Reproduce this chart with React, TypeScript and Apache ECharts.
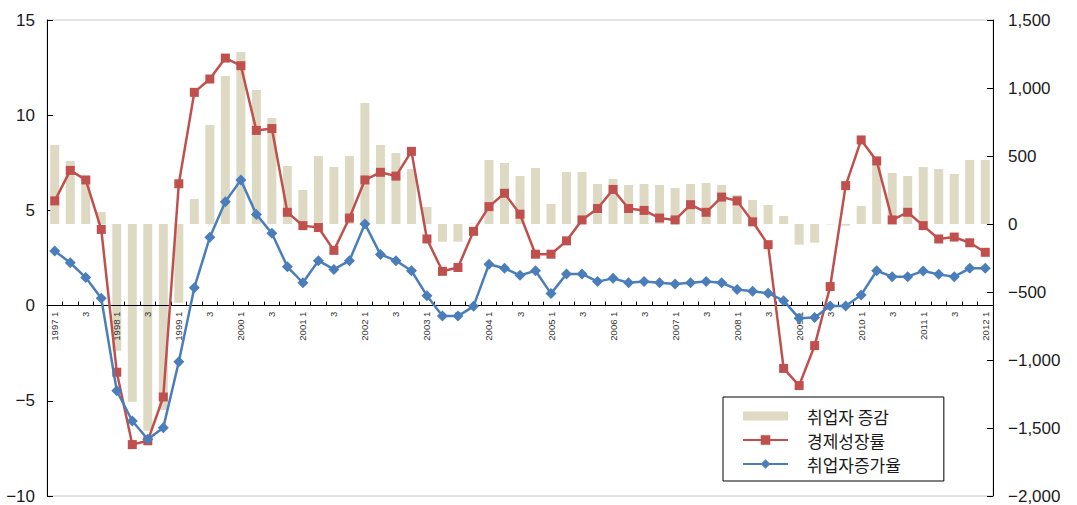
import React, { useEffect, useRef } from "react";
import * as echarts from "echarts";

// Quarter labels, 1997 Q1 – 2012 Q1
const categories: string[] = [
  "1997 1", "1997 2", "1997 3", "1997 4",
  "1998 1", "1998 2", "1998 3", "1998 4",
  "1999 1", "1999 2", "1999 3", "1999 4",
  "2000 1", "2000 2", "2000 3", "2000 4",
  "2001 1", "2001 2", "2001 3", "2001 4",
  "2002 1", "2002 2", "2002 3", "2002 4",
  "2003 1", "2003 2", "2003 3", "2003 4",
  "2004 1", "2004 2", "2004 3", "2004 4",
  "2005 1", "2005 2", "2005 3", "2005 4",
  "2006 1", "2006 2", "2006 3", "2006 4",
  "2007 1", "2007 2", "2007 3", "2007 4",
  "2008 1", "2008 2", "2008 3", "2008 4",
  "2009 1", "2009 2", "2009 3", "2009 4",
  "2010 1", "2010 2", "2010 3", "2010 4",
  "2011 1", "2011 2", "2011 3", "2011 4",
  "2012 1",
];

// 취업자 증감 (천 명, 오른쪽 축)
const employmentChange: number[] = [
  581, 463, 350, 88,
  -932, -1307, -1520, -1368,
  -579, 184, 728, 1088,
  1265, 985, 779, 426,
  250, 500, 419, 500,
  890, 581, 522, 404,
  125, -130, -130, 3,
  471, 449, 353, 412,
  147, 382, 382, 294,
  331, 287, 294, 287,
  265, 294, 301, 287,
  213, 176, 140, 59,
  -152, -137, -3, -12,
  132, 434, 375, 353,
  419, 404, 368, 471,
  471,
];

// 경제성장률 (%, 왼쪽 축)
const gdpGrowth: number[] = [
  5.5, 7.1, 6.6, 4.0,
  -3.5, -7.3, -7.1, -4.8,
  6.4, 11.2, 11.9, 13.0,
  12.6, 9.2, 9.3, 4.9,
  4.2, 4.1, 2.9, 4.6,
  6.6, 7.0, 6.8, 8.1,
  3.5, 1.8, 2.0, 3.9,
  5.2, 5.9, 4.8, 2.7,
  2.7, 3.4, 4.5, 5.1,
  6.1, 5.1, 5.0, 4.6,
  4.5, 5.3, 4.9, 5.7,
  5.5, 4.4, 3.2, -3.3,
  -4.2, -2.1, 1.0, 6.3,
  8.7, 7.6, 4.5, 4.9,
  4.2, 3.5, 3.6, 3.3,
  2.8,
];

// 취업자증가율 (%, 왼쪽 축)
const employmentGrowth: number[] = [
  2.87, 2.25, 1.47, 0.38,
  -4.47, -6.06, -7.02, -6.41,
  -2.95, 0.94, 3.59, 5.46,
  6.6, 4.79, 3.8, 2.04,
  1.2, 2.36, 1.9, 2.36,
  4.29, 2.69, 2.36, 1.83,
  0.52, -0.55, -0.55, -0.04,
  2.17, 1.96, 1.59, 1.83,
  0.63, 1.66, 1.66, 1.26,
  1.43, 1.2, 1.27, 1.2,
  1.13, 1.2, 1.26, 1.2,
  0.85, 0.75, 0.65, 0.26,
  -0.67, -0.62, -0.02, -0.02,
  0.56, 1.83, 1.52, 1.52,
  1.82, 1.64, 1.52, 1.96,
  1.96,
];

const seriesNames = ["취업자 증감", "경제성장률", "취업자증가율"];

const leftTicks = { min: -10, max: 15, interval: 5 };
const rightTicks = { min: -2000, max: 1500, interval: 500 };

const NUM_FONT = "'Liberation Sans', Arial, sans-serif";
const KR_FONT = "'Noto Sans CJK KR', sans-serif";

const WIDTH = 1077;
const HEIGHT = 505;
const GRID = { left: 47, right: 84, top: 20, bottom: 9 };

// The category axis sits on the left axis' zero line, with its labels
const plotHeight = HEIGHT - GRID.top - GRID.bottom;
const zeroOffset =
  -plotHeight * (0 - leftTicks.min) / (leftTicks.max - leftTicks.min);

const minus = (s: string) => s.replace("-", "\u2212");

// Q1 shows "year 1", Q3 shows "3"; others are skipped by the axis interval
const quarterLabel = (value: string) => {
  const [year, q] = value.split(" ");
  return q === "1" ? `${year} 1` : q;
};

export default function App() {
  const ref = useRef<HTMLDivElement>(null);

  useEffect(() => {
    if (!ref.current) return;
    const chart = echarts.init(ref.current, undefined, { renderer: "svg" });

    chart.setOption({
      animation: false,
      backgroundColor: "#ffffff",
      grid: {
        ...GRID,
        show: true,
        borderColor: "#c8c8c8",
        borderWidth: 1,
        containLabel: false,
        outerBoundsMode: "none",
      },
      legend: {
        orient: "vertical",
        left: 723,
        top: 397,
        padding: [9, 43, 7, 19],
        itemWidth: 45,
        itemHeight: 12,
        itemGap: 4,
        borderColor: "#000000",
        borderWidth: 1,
        backgroundColor: "#ffffff",
        textStyle: {
          fontFamily: KR_FONT,
          fontSize: 17,
          color: "#1a1a1a",
          lineHeight: 20,
          padding: [0, 0, 0, 14],
        },
        data: [
          { name: seriesNames[0], icon: "path://M0,0H45V9H0Z" },
          { name: seriesNames[1] },
          { name: seriesNames[2] },
        ],
      },
      xAxis: {
        type: "category",
        data: categories,
        boundaryGap: true,
        position: "bottom",
        offset: zeroOffset,
        z: 2,
        axisLine: {
          onZero: false,
          lineStyle: { color: "#000000", width: 1 },
        },
        axisTick: {
          show: true,
          inside: true,
          length: 4,
          interval: 0,
          lineStyle: { color: "#000000" },
        },
        axisLabel: {
          interval: 1,
          rotate: 90,
          fontSize: 9.5,
          fontFamily: NUM_FONT,
          color: "#333333",
          margin: 6,
          hideOverlap: false,
          formatter: quarterLabel,
        },
        splitLine: { show: false },
      },
      yAxis: [
        {
          type: "value",
          position: "left",
          ...leftTicks,
          axisLine: { show: true, onZero: false, lineStyle: { color: "#000000" } },
          axisTick: { show: true, inside: true, length: 6, lineStyle: { color: "#000000" } },
          axisLabel: {
            fontSize: 17,
            fontFamily: NUM_FONT,
            color: "#1a1a1a",
            margin: 12,
            formatter: (v: number) => minus(String(v)),
          },
          splitLine: { show: false },
        },
        {
          type: "value",
          position: "right",
          ...rightTicks,
          axisLine: { show: true, onZero: false, lineStyle: { color: "#000000" } },
          axisTick: { show: true, inside: true, length: 6, lineStyle: { color: "#000000" } },
          axisLabel: {
            fontSize: 17,
            fontFamily: NUM_FONT,
            color: "#1a1a1a",
            margin: 15,
            formatter: (v: number) => minus(v.toLocaleString("en-US")),
          },
          splitLine: { show: false },
        },
      ],
      series: [
        {
          name: seriesNames[0],
          type: "bar",
          yAxisIndex: 1,
          data: employmentChange,
          barWidth: 9,
          itemStyle: { color: "#DDD9C3" },
          z: 1,
        },
        {
          name: seriesNames[1],
          type: "line",
          yAxisIndex: 0,
          data: gdpGrowth,
          symbol: "rect",
          symbolSize: 9,
          showAllSymbol: true,
          lineStyle: { color: "#C0504D", width: 2.5 },
          itemStyle: { color: "#C0504D" },
          z: 3,
        },
        {
          name: seriesNames[2],
          type: "line",
          yAxisIndex: 0,
          data: employmentGrowth,
          symbol: "diamond",
          symbolSize: 11,
          showAllSymbol: true,
          lineStyle: { color: "#4A7EBB", width: 2.5 },
          itemStyle: { color: "#4A7EBB" },
          z: 4,
        },
      ],
    });

    return () => chart.dispose();
  }, []);

  return (
    <div
      ref={ref}
      style={{ position: "fixed", left: 0, top: 0, width: WIDTH, height: HEIGHT }}
    />
  );
}
